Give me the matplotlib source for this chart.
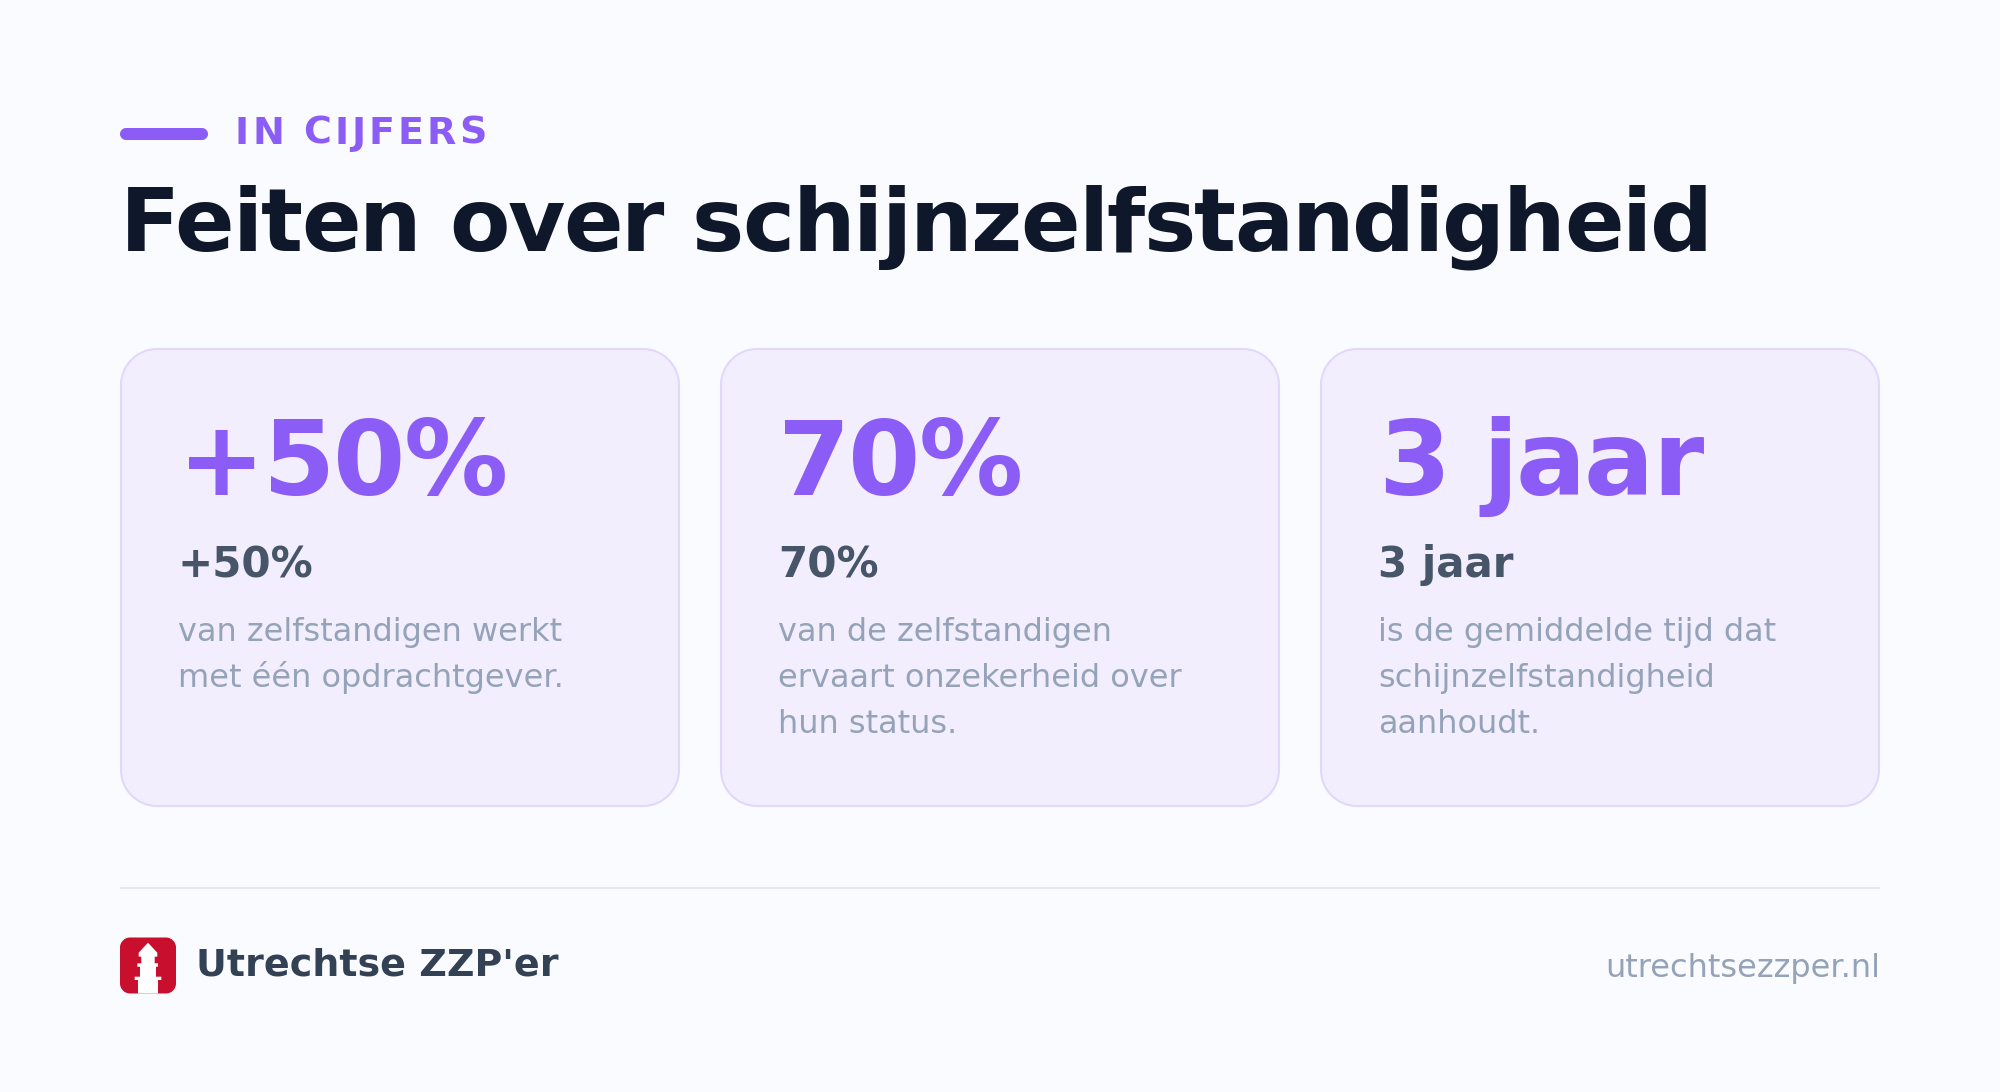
import matplotlib
matplotlib.use('Agg')
import matplotlib.pyplot as plt
from matplotlib.patches import PathPatch, Polygon
from matplotlib.path import Path

plt.rcParams['font.family'] = ['DejaVu Sans']

KICKER = 'IN CIJFERS'
TITLE = 'Feiten over schijnzelfstandigheid'
STATS = ['+50%', '70%', '3 jaar']
LABELS = ['+50%', '70%', '3 jaar']
DESCRIPTIONS = [
    ['van zelfstandigen werkt', 'met één opdrachtgever.'],
    ['van de zelfstandigen', 'ervaart onzekerheid over', 'hun status.'],
    ['is de gemiddelde tijd dat', 'schijnzelfstandigheid', 'aanhoudt.'],
]
BRAND = "Utrechtse ZZP'er"
SITE = 'utrechtsezzper.nl'

BG = '#fafbfe'
ACCENT = '#8b5cf6'
DARK = '#0f172a'
LABEL_COL = '#475569'
MUTED = '#94a3b8'
CARD_FACE = '#f3eefe'
CARD_EDGE = '#e2d8fb'
LOGO_RED = '#c8102e'

DPI = 100


def px(size):
    # font size in pixels to points
    return size * 72 / DPI


def rounded(ax, x, y, w, h, r, **kw):
    # true circular corners, FancyBboxPatch corners come out too flat
    k = r * 0.4477
    x2 = x + w
    y2 = y + h
    verts = [(x + r, y), (x2 - r, y),
             (x2 - k, y), (x2, y + k), (x2, y + r), (x2, y2 - r),
             (x2, y2 - k), (x2 - k, y2), (x2 - r, y2), (x + r, y2),
             (x + k, y2), (x, y2 - k), (x, y2 - r), (x, y + r),
             (x, y + k), (x + k, y), (x + r, y), (x + r, y)]
    codes = [Path.MOVETO, Path.LINETO,
             Path.CURVE4, Path.CURVE4, Path.CURVE4, Path.LINETO,
             Path.CURVE4, Path.CURVE4, Path.CURVE4, Path.LINETO,
             Path.CURVE4, Path.CURVE4, Path.CURVE4, Path.LINETO,
             Path.CURVE4, Path.CURVE4, Path.CURVE4, Path.CLOSEPOLY]
    ax.add_patch(PathPatch(Path(verts, codes), **kw))


def advance(ax, text, **kw):
    # width with side bearings, measured between two n's
    renderer = fig.canvas.get_renderer()
    t1 = ax.text(0, 0, 'n' + text + 'n', **kw)
    t2 = ax.text(0, 0, 'nn', **kw)
    w = t1.get_window_extent(renderer).width - t2.get_window_extent(renderer).width
    t1.remove()
    t2.remove()
    return w


def spaced_text(ax, x, y, text, spacing, **kw):
    # no letter spacing in matplotlib, so place the letters one by one
    # the prefix includes this letter so that its kerning is kept
    for i, ch in enumerate(text):
        if ch != ' ':
            pos = advance(ax, text[:i + 1], **kw) - advance(ax, ch, **kw)
            ax.text(x + pos + i * spacing, y, ch, va='baseline', ha='left', **kw)


fig = plt.figure(figsize=(20, 10.92), dpi=DPI, facecolor=BG)
ax = fig.add_axes([0, 0, 1, 1])
ax.set_xlim(0, 2000)
ax.set_ylim(1092, 0)
ax.axis('off')

# header
rounded(ax, 120, 128, 88, 12, 6, fc=ACCENT, ec='none')
spaced_text(ax, 235, 144, KICKER, 3.04, color=ACCENT, fontsize=px(38), fontweight='bold')
spaced_text(ax, 120, 251, TITLE, -1.76, color=DARK, fontsize=px(88), fontweight='bold')

# cards
card_x = [120, 720, 1320]
for i in range(3):
    x = card_x[i]
    rounded(ax, x + 1, 349, 558, 457, 36, fc=CARD_FACE, ec=CARD_EDGE, lw=1.5)
    spaced_text(ax, x + 58, 495, STATS[i], -2.08, color=ACCENT, fontsize=px(104), fontweight='bold')
    ax.text(x + 58, 577, LABELS[i], color=LABEL_COL, fontsize=px(42),
            fontweight='bold', va='baseline', ha='left')
    for j, line in enumerate(DESCRIPTIONS[i]):
        ax.text(x + 58, 641 + j * 45.8, line, color=MUTED, fontsize=px(32),
                va='baseline', ha='left')

# footer
ax.plot([120, 1880], [888, 888], color='#e2e8f0', lw=1.5, solid_capstyle='butt')

rounded(ax, 120, 937.5, 56, 56, 10, fc=LOGO_RED, ec='none')
ax.add_patch(Polygon([(148, 942.7), (157.3, 952.7), (157.3, 956.7), (154.7, 956.7),
                      (154.7, 963.3), (158, 963.3), (158, 966.7), (156, 966.7),
                      (156, 976.7), (161.3, 976.7), (161.3, 980), (158, 980),
                      (158, 993.5), (138, 993.5), (138, 980), (134.7, 980),
                      (134.7, 976.7), (140, 976.7), (140, 966.7), (137.3, 966.7),
                      (137.3, 963.3), (141.3, 963.3), (141.3, 956.7), (138.7, 956.7),
                      (138.7, 952.7)], closed=True, fc='white', ec='none'))

ax.text(196, 976, BRAND, color='#334155', fontsize=px(38), fontweight='bold',
        va='baseline', ha='left')
ax.text(1880, 977, SITE, color=MUTED, fontsize=px(32), va='baseline', ha='right')

fig.savefig('out.png', dpi=DPI, facecolor=BG)
